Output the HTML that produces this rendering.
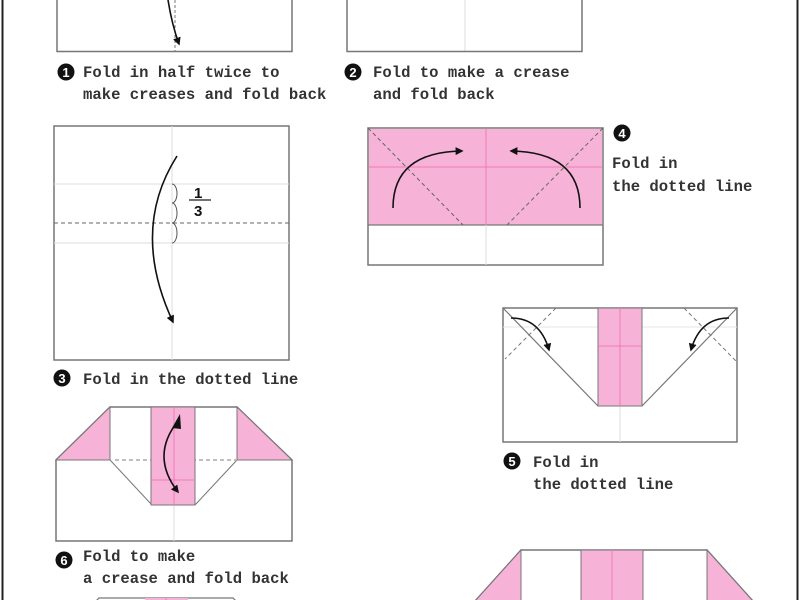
<!DOCTYPE html>
<html><head><meta charset="utf-8"><style>
html,body{margin:0;padding:0;background:#fff;}
svg{display:block}
text{font-family:"Liberation Mono","Noto Sans CJK JP",monospace;font-size:15.6px;fill:#333;font-weight:bold;}
.n{fill:#fff;font-size:13px;font-family:"Liberation Sans",sans-serif;font-weight:bold;}
</style></head><body>
<svg width="800" height="600" viewBox="0 0 800 600" xmlns="http://www.w3.org/2000/svg">
<defs>
<marker id="ah" viewBox="0 0 10 10" refX="8" refY="5" markerWidth="5" markerHeight="5" orient="auto"><path d="M0,0 L10,5 L0,10 Z" fill="#111"/></marker>
</defs>
<rect width="800" height="600" fill="#fff"/>
<line x1="2.5" y1="0" x2="2.5" y2="600" stroke="#222" stroke-width="2"/>
<line x1="797.5" y1="0" x2="797.5" y2="600" stroke="#222" stroke-width="2"/>

<!-- Step 1 -->
<line x1="175" y1="0" x2="175" y2="51" stroke="#777" stroke-dasharray="3,2"/>
<path d="M57,-2 V51.5 H292 V-2" fill="none" stroke="#777" stroke-width="1.5"/>
<path d="M168,0 Q172,25 179,44" fill="none" stroke="#111" stroke-width="1.6" marker-end="url(#ah)"/>
<circle cx="66" cy="72" r="8.5" fill="#111"/><text x="66" y="77" text-anchor="middle" class="n">1</text>
<text x="83" y="77">Fold in half twice to</text>
<text x="83" y="99">make creases and fold back</text>

<!-- Step 2 -->
<line x1="465" y1="0" x2="465" y2="51" stroke="#ddd"/>
<path d="M347,-2 V51.5 H582 V-2" fill="none" stroke="#777" stroke-width="1.5"/>
<circle cx="353" cy="72" r="8.5" fill="#111"/><text x="353" y="77" text-anchor="middle" class="n">2</text>
<text x="373" y="77">Fold to make a crease</text>
<text x="373" y="99">and fold back</text>

<!-- Step 3 -->
<rect x="54" y="126" width="235" height="234" fill="#fff" stroke="#777" stroke-width="1.5"/>
<line x1="54" y1="184" x2="289" y2="184" stroke="#ddd"/>
<line x1="54" y1="243" x2="289" y2="243" stroke="#ddd"/>
<line x1="172" y1="126" x2="172" y2="360" stroke="#ddd"/>
<line x1="54" y1="223" x2="289" y2="223" stroke="#666" stroke-dasharray="4,3"/>
<path d="M172,184 a5,9.5 0 0 1 0,19 a5,10 0 0 1 0,20 a5,10 0 0 1 0,20" fill="none" stroke="#555"/>
<text x="194" y="198" style="font-family:'Liberation Sans',sans-serif;font-size:15px;fill:#111">1</text>
<line x1="189" y1="200" x2="211" y2="200" stroke="#444" stroke-width="1.4"/>
<text x="194" y="216" style="font-family:'Liberation Sans',sans-serif;font-size:15px;fill:#111">3</text>
<path d="M177,156 Q130,230 173,322" fill="none" stroke="#111" stroke-width="1.6" marker-end="url(#ah)"/>
<circle cx="62" cy="378" r="8.5" fill="#111"/><text x="62" y="383" text-anchor="middle" class="n">3</text>
<text x="83" y="384">Fold in the dotted line</text>

<!-- Step 4 -->
<rect x="368" y="128" width="235" height="137" fill="#fff" stroke="#777" stroke-width="1.5"/>
<rect x="369" y="129" width="233" height="96" fill="#f7b2d8"/>
<line x1="368" y1="225" x2="603" y2="225" stroke="#777" stroke-width="1.2"/>
<line x1="369" y1="167" x2="602" y2="167" stroke="#f07ab8"/>
<line x1="486" y1="129" x2="486" y2="225" stroke="#f07ab8"/>
<line x1="486" y1="225" x2="486" y2="265" stroke="#ddd"/>
<line x1="368" y1="128" x2="463" y2="225" stroke="#666" stroke-dasharray="4,3"/>
<line x1="603" y1="128" x2="507" y2="225" stroke="#666" stroke-dasharray="4,3"/>
<path d="M393,208 Q393,152 462,151" fill="none" stroke="#111" stroke-width="1.6" marker-end="url(#ah)"/>
<path d="M580,208 Q580,152 511,151" fill="none" stroke="#111" stroke-width="1.6" marker-end="url(#ah)"/>
<circle cx="622" cy="133" r="8.5" fill="#111"/><text x="622" y="138" text-anchor="middle" class="n">4</text>
<text x="612" y="168">Fold in</text>
<text x="612" y="191">the dotted line</text>

<!-- Step 5 -->
<rect x="503" y="308" width="234" height="134" fill="#fff" stroke="#777" stroke-width="1.5"/>
<line x1="503" y1="327" x2="737" y2="327" stroke="#e6e6e6"/>
<line x1="620" y1="406" x2="620" y2="442" stroke="#ddd"/>
<rect x="598" y="308" width="44" height="98" fill="#f7b2d8" stroke="#777"/>
<line x1="620" y1="308" x2="620" y2="406" stroke="#f07ab8"/>
<line x1="598" y1="346" x2="642" y2="346" stroke="#f07ab8"/>
<line x1="503" y1="308" x2="598" y2="406" stroke="#777" stroke-width="1.2"/>
<line x1="737" y1="308" x2="642" y2="406" stroke="#777" stroke-width="1.2"/>
<line x1="556" y1="308" x2="505" y2="359" stroke="#777" stroke-dasharray="4,3"/>
<line x1="684" y1="308" x2="736" y2="361" stroke="#777" stroke-dasharray="4,3"/>
<path d="M511,318 Q540,318 549,350" fill="none" stroke="#111" stroke-width="1.6" marker-end="url(#ah)"/>
<path d="M729,318 Q700,318 691,350" fill="none" stroke="#111" stroke-width="1.6" marker-end="url(#ah)"/>
<circle cx="512" cy="461" r="8.5" fill="#111"/><text x="512" y="466" text-anchor="middle" class="n">5</text>
<text x="533" y="467">Fold in</text>
<text x="533" y="489">the dotted line</text>

<!-- Step 6 -->
<path d="M110,407 H237 L292,460 V541 H56 V460 Z" fill="#fff" stroke="#777" stroke-width="1.5"/>
<path d="M110,407 L56,460 H110 Z" fill="#f7b2d8" stroke="#777"/>
<path d="M237,407 L292,460 H237 Z" fill="#f7b2d8" stroke="#777"/>
<line x1="174" y1="505" x2="174" y2="541" stroke="#ddd"/>
<line x1="110" y1="460" x2="152" y2="505" stroke="#777"/>
<line x1="237" y1="460" x2="195" y2="505" stroke="#777"/>
<line x1="115" y1="460" x2="237" y2="460" stroke="#aaa" stroke-width="1.5" stroke-dasharray="4,3"/>
<rect x="151" y="407" width="44" height="98" fill="#f7b2d8" stroke="#777"/>
<line x1="174" y1="407" x2="174" y2="505" stroke="#f07ab8"/>
<line x1="151" y1="480" x2="195" y2="480" stroke="#f07ab8"/>
<path d="M178,421 Q150,456 178,492" fill="none" stroke="#111" stroke-width="1.6" marker-end="url(#ah)"/>
<path d="M172,428 L180,414 L181,429 Z" fill="#111"/>
<circle cx="64" cy="560" r="8.5" fill="#111"/><text x="64" y="565" text-anchor="middle" class="n">6</text>
<text x="83" y="561">Fold to make</text>
<text x="83" y="583">a crease and fold back</text>

<!-- Step 7 (partial) -->
<path d="M99,598 H233 L240,605 H92 Z" fill="#fff" stroke="#777" stroke-width="1.2"/>
<rect x="145" y="598" width="43" height="8" fill="#f7b2d8"/>
<line x1="166" y1="598" x2="166" y2="600" stroke="#f07ab8"/>

<!-- Step 8 (partial) -->
<path d="M521,550 H707 L770,620 H458 Z" fill="#fff" stroke="#777" stroke-width="1.5"/>
<path d="M521,550 L458,620 H521 Z" fill="#f7b2d8" stroke="#777"/>
<path d="M707,550 L770,620 H707 Z" fill="#f7b2d8" stroke="#777"/>
<rect x="581" y="550" width="62" height="60" fill="#f7b2d8" stroke="#777"/>
<line x1="612" y1="550" x2="612" y2="600" stroke="#f07ab8"/>
</svg>
</body></html>
